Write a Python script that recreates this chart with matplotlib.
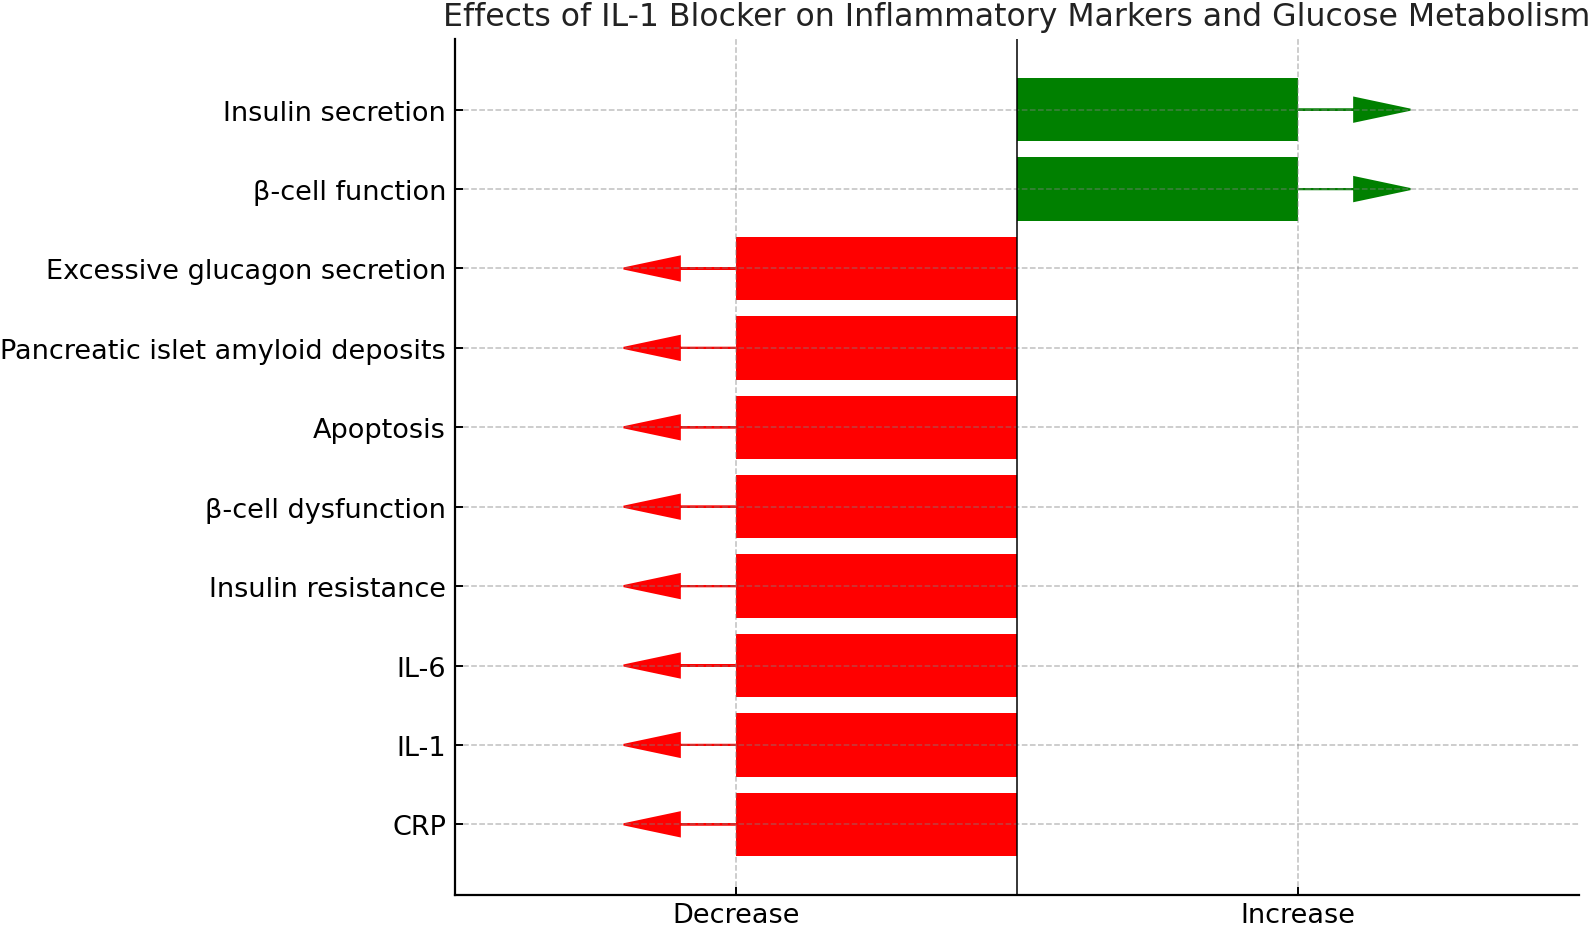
import matplotlib.pyplot as plt

# categories from bottom to top
categories = ['CRP', 'IL-1', 'IL-6', 'Insulin resistance', 'β-cell dysfunction',
              'Apoptosis', 'Pancreatic islet amyloid deposits',
              'Excessive glucagon secretion', 'β-cell function', 'Insulin secretion']
effects = [-1, -1, -1, -1, -1, -1, -1, -1, 1, 1]
x_ticks = [-1, 1]
x_tick_labels = ['Decrease', 'Increase']

fig = plt.figure(figsize=(15.93, 9.28), dpi=100)
ax = fig.add_axes([455 / 1593, 32 / 928, 1124 / 1593, 856 / 928])

colors = ['green' if e > 0 else 'red' for e in effects]
ax.barh(categories, effects, color=colors, height=0.8)

# direction arrows at the end of each bar
for i, (e, c) in enumerate(zip(effects, colors)):
    ax.arrow(e, i, 0.2 * e, 0, head_width=0.3, head_length=0.2,
             fc=c, ec=c, lw=1.5)

ax.axvline(0, color='black', linewidth=1.1)
ax.set_xlim(-2, 2)
ax.set_xticks(x_ticks)
ax.set_xticklabels(x_tick_labels)
ax.grid(True, linestyle='--', color='gray', alpha=0.5, linewidth=1.1)

ax.spines['top'].set_visible(False)
ax.spines['right'].set_visible(False)
for s in ['left', 'bottom']:
    ax.spines[s].set_linewidth(1.6)
ax.tick_params(direction='in', length=5.8, width=1.4, labelsize=19.5, pad=6.5)
ax.tick_params(axis='x', pad=5)

ax.set_title('Effects of IL-1 Blocker on Inflammatory Markers and Glucose Metabolism',
             fontsize=22.7, pad=10, color='#222222')

fig.savefig('out.png', dpi=100)
